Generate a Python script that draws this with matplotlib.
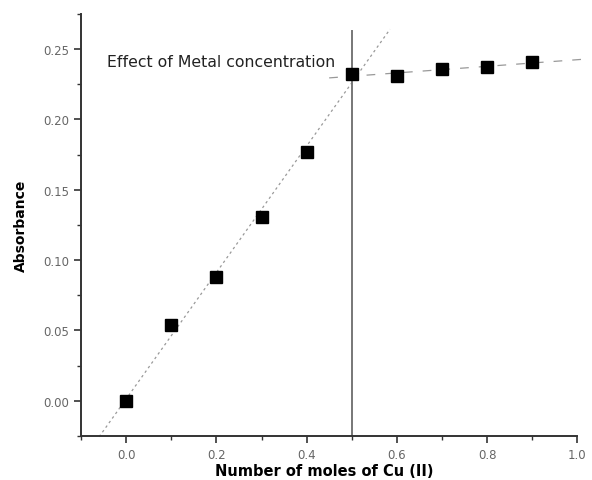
import numpy as np
import matplotlib
matplotlib.use('Agg')
import matplotlib.pyplot as plt
from matplotlib.ticker import MultipleLocator

# data
moles = [0.0, 0.1, 0.2, 0.3, 0.4, 0.5, 0.6, 0.7, 0.8, 0.9]
absorbance = [0.000, 0.054, 0.088, 0.131, 0.177, 0.232, 0.231, 0.236, 0.2375, 0.2405]
rise_idx = slice(0, 6)
plateau_idx = slice(5, 10)
x_ticks = [0.0, 0.2, 0.4, 0.6, 0.8, 1.0]
x_ticklabels = ['0.0', '0.2', '0.4', '0.6', '0.8', '1.0']
y_ticks = [0.00, 0.05, 0.10, 0.15, 0.20, 0.25]
y_ticklabels = ['0.00', '0.05', '0.10', '0.15', '0.20', '0.25']
title_text = 'Effect of Metal concentration'

x = np.array(moles)
y = np.array(absorbance)

fig = plt.figure(figsize=(5.92, 4.81), dpi=100)
ax = fig.add_axes([0.137, 0.0915, 0.838, 0.8775])

# fitted lines through the two regions
k1, b1 = np.polyfit(x[rise_idx], y[rise_idx], 1)
k2, b2 = np.polyfit(x[plateau_idx], y[plateau_idx], 1)
xr = np.array([-0.06, 0.585])
ax.plot(xr, k1 * xr + b1, color='#999999', lw=0.9, ls=(0, (2, 2.5)), clip_on=False)
xp = np.array([0.45, 1.03])
ax.plot(xp, k2 * xp + b2, color='#999999', lw=0.9, ls=(0, (7, 8)), clip_on=False)

ax.axvline(0.5, ymin=0, ymax=0.96, color='#777777', lw=1.4)

ax.plot(x, y, 's', color='black', ms=8.5, zorder=5)

ax.text(-0.042, 0.2415, title_text, fontsize=11.3, color='#222222',
        ha='left', va='center')

ax.set_xlim(-0.1, 1.0)
ax.set_ylim(-0.025, 0.275)
ax.set_xticks(x_ticks)
ax.set_xticklabels(x_ticklabels)
ax.set_yticks(y_ticks)
ax.set_yticklabels(y_ticklabels)
ax.xaxis.set_minor_locator(MultipleLocator(0.1))
ax.yaxis.set_minor_locator(MultipleLocator(0.025))
ax.tick_params(which='major', direction='out', length=5, width=1.2,
               labelsize=8.5, labelcolor='#666666', color='#333333')
ax.tick_params(axis='x', which='major', pad=4)
ax.tick_params(which='minor', direction='out', length=3, width=1.0, color='#333333')

for s in ['top', 'right']:
    ax.spines[s].set_visible(False)
for s in ['left', 'bottom']:
    ax.spines[s].set_linewidth(1.4)
    ax.spines[s].set_color('#333333')

ax.set_xlabel('Number of moles of Cu (II)', fontsize=10.5, fontweight='bold')
ax.xaxis.set_label_coords(0.49, -0.063)
ax.set_ylabel('Absorbance', fontsize=10, fontweight='bold')
ax.yaxis.set_label_coords(-0.107, 0.5)

fig.savefig('out.png', dpi=100)
